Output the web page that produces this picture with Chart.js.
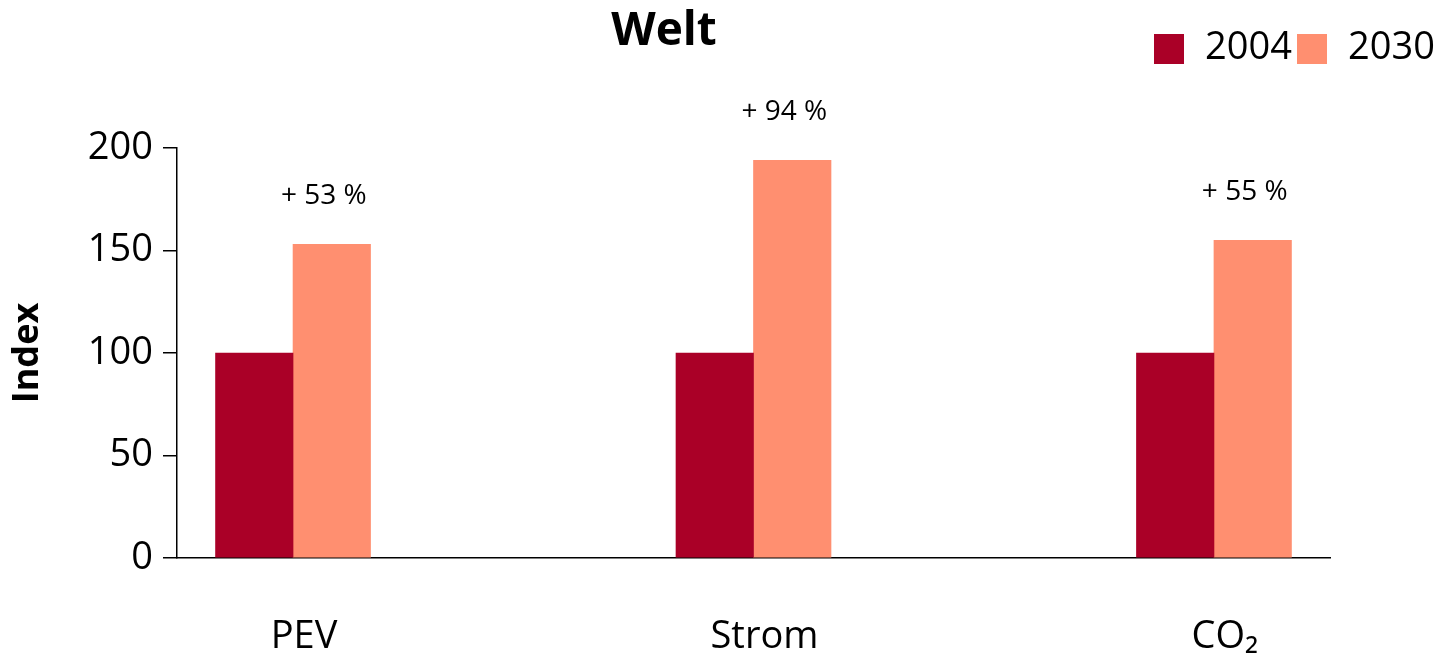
<!DOCTYPE html>
<html>
<head>
<meta charset="utf-8">
<script src="https://cdn.jsdelivr.net/npm/chart.js@4"></script>
<style>
  html, body { margin: 0; padding: 0; background: #fff; }
  #wrap { width: 1439px; height: 659px; }
</style>
</head>
<body>
<div id="wrap"><canvas id="chart"></canvas></div>
<script>
// ---------- Data ----------
const categories = ["PEV", "Strom", "CO\u2082"];
const years      = ["2004", "2030"];
const values2004 = [100, 100, 100];
const values2030 = [153, 194, 155];
const yTicks     = [0, 50, 100, 150, 200];

const colors   = ["#AA0027", "#FF8F70"];
const FONT     = "'Open Sans', 'Noto Sans', sans-serif";

// ---------- Header, legend and percent labels ----------
const decorPlugin = {
    id: "decor",
    afterDraw(chart) {
        const ctx = chart.ctx;
        ctx.save();
        ctx.fillStyle = "#000";
        ctx.textBaseline = "middle";

        // title
        ctx.font = "bold 46px " + FONT;
        ctx.textAlign = "center";
        ctx.fillText("Welt", 664, 32);

        // legend
        const legendX = [1154, 1297];
        ctx.font = "38px " + FONT;
        ctx.textAlign = "left";
        years.forEach((y, i) => {
            ctx.fillStyle = colors[i];
            ctx.fillRect(legendX[i], 34, 30, 30);
            ctx.fillStyle = "#000";
            ctx.fillText(y, legendX[i] + 51, 48);
        });

        // percent change above 2030 bars
        const bars = chart.getDatasetMeta(1).data;
        ctx.font = "28px " + FONT;
        ctx.textAlign = "center";
        bars.forEach((bar, i) => {
            const pct = Math.round((values2030[i] / values2004[i] - 1) * 100);
            ctx.fillText("+ " + pct + " %", bar.x - 8, bar.y - 48);
        });
        ctx.restore();
    }
};

// ---------- Chart ----------
new Chart(document.getElementById("chart"), {
    type: "bar",
    data: {
        datasets: [
            {
                label: years[0],
                data: values2004.map((v, i) => ({ x: i, y: v })),
                backgroundColor: colors[0]
            },
            {
                label: years[1],
                data: values2030.map((v, i) => ({ x: i, y: v })),
                backgroundColor: colors[1]
            }
        ]
    },
    options: {
        responsive: true,
        maintainAspectRatio: false,
        animation: false,
        barThickness: 77.5,
        barPercentage: 1,
        categoryPercentage: 1,
        layout: { padding: { top: 148, right: 109, bottom: 0, left: 0 } },
        plugins: {
            legend: { display: false },
            title: { display: false },
            tooltip: { enabled: false }
        },
        scales: {
            x: {
                type: "linear",
                offset: false,
                min: -0.252,
                max: 2.252,
                afterBuildTicks: s => { s.ticks = categories.map((c, i) => ({ value: i })); },
                afterFit: s => { s.height = 101; },
                grid: { display: false },
                border: { display: true, color: "#000", width: 1.5 },
                ticks: {
                    padding: 48,
                    labelOffset: 11,
                    color: "#000",
                    font: { family: FONT, size: 38 },
                    callback: v => categories[v]
                }
            },
            y: {
                min: 0,
                max: 200,
                afterBuildTicks: s => { s.ticks = yTicks.map(v => ({ value: v })); },
                afterFit: s => { s.width = 177; },
                grid: { drawOnChartArea: false, drawTicks: true, tickLength: 14, color: "#000", lineWidth: 1.5 },
                border: { display: true, color: "#000", width: 1.5 },
                ticks: {
                    padding: 10,
                    color: "#000",
                    font: { family: FONT, size: 38 }
                },
                title: {
                    display: true,
                    text: "Index",
                    color: "#000",
                    padding: { top: 6, bottom: 0 },
                    font: { family: FONT, size: 36, weight: "bold" }
                }
            }
        }
    },
    plugins: [decorPlugin]
});
</script>
</body>
</html>
